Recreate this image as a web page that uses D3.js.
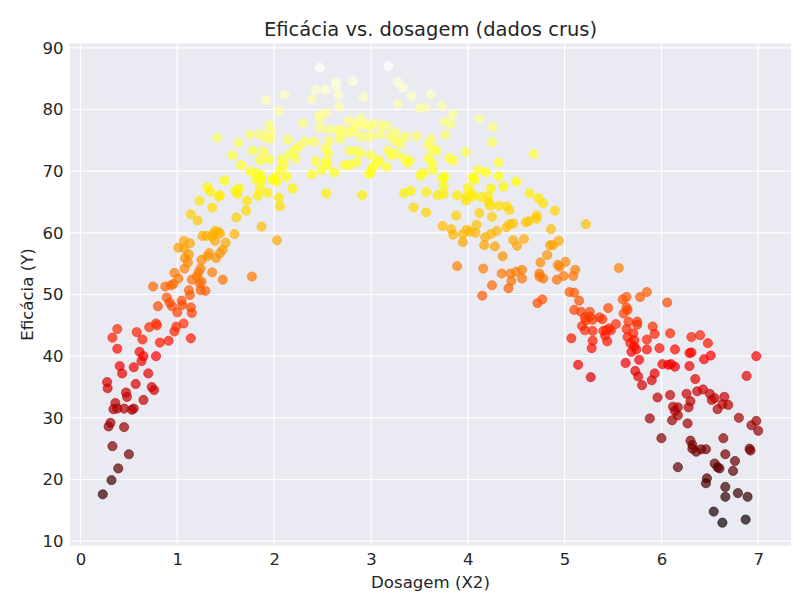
<!DOCTYPE html>
<html>
<head>
<meta charset="utf-8">
<script src="https://cdn.jsdelivr.net/npm/d3@7"></script>
<style>
  body { margin: 0; background: #fff; }
  text { font-family: "DejaVu Sans", sans-serif; fill: #262626; }
</style>
</head>
<body>
<script>
// dose (X2) and efficacy (Y)
var dose = [
  0.23,0.32,0.39,0.50,0.33,0.45,0.29,0.31,0.34,0.36,0.38,0.45,0.53,0.55,0.65,0.48,0.47,0.28,0.275,0.405,
  0.43,0.57,0.735,0.76,0.70,0.55,0.61,0.65,0.63,0.78,0.38,0.33,0.38,0.58,0.64,0.71,0.78,0.79,0.82,0.91,
  0.97,0.99,1.065,1.14,0.75,0.80,0.89,0.92,0.945,1.0,1.045,1.05,1.14,1.15,0.876,0.935,0.96,1.01,0.97,1.12,
  1.13,1.15,1.22,1.23,1.25,1.24,1.29,1.36,1.20,1.24,1.075,1.07,1.13,1.01,1.07,1.12,1.08,1.11,1.47,1.44,
  1.40,1.33,1.31,1.25,1.47,1.77,1.39,1.42,1.37,1.44,1.39,1.36,1.26,1.30,1.50,1.59,2.03,1.87,1.61,1.71,
  1.72,1.14,1.21,1.23,1.36,1.31,1.34,1.43,1.44,1.49,1.60,1.62,1.64,1.83,1.85,1.93,1.75,1.81,1.82,1.87,
  1.87,1.98,2.01,2.03,2.06,2.13,2.47,2.43,2.53,2.39,2.11,1.92,2.05,2.47,2.47,2.54,2.30,2.47,2.56,1.95,
  1.96,1.75,1.85,1.91,1.96,2.14,2.32,2.41,2.25,2.22,2.16,2.22,2.53,2.56,2.54,2.43,2.49,2.39,2.54,1.41,
  1.63,1.57,1.78,1.89,1.66,1.86,1.95,2.08,2.10,2.19,2.05,2.06,
  3.18,2.64,2.64,2.81,3.28,3.33,2.66,2.92,3.42,3.62,3.28,2.67,3.50,3.56,3.73,3.85,3.76,3.82,2.77,2.90,
  2.85,3.02,3.11,3.16,2.99,2.94,2.89,2.82,2.65,2.70,2.68,2.77,2.82,2.90,2.99,3.09,3.20,3.25,3.35,3.47,
  3.62,3.77,3.98,2.57,2.68,2.78,2.89,2.85,3.00,3.18,3.26,3.21,3.26,3.30,3.34,3.40,3.38,3.59,3.64,3.68,
  3.59,3.63,3.64,3.81,3.85,3.54,3.51,3.74,3.76,3.75,3.08,3.06,3.02,3.16,3.00,2.98,2.73,2.78,2.85,2.62,
  2.55,2.91,3.34,3.41,3.57,3.44,3.57,3.69,3.75,3.88,3.89,3.99,3.98,4.00,3.74,3.83,3.85,3.95,3.95,3.99,
  4.68,4.32,4.05,4.07,4.11,4.19,4.32,4.50,4.24,4.37,4.04,4.05,4.14,4.21,4.22,4.23,4.32,4.40,4.43,4.64,
  4.73,4.78,4.90,4.12,4.25,4.40,4.43,4.47,4.60,4.63,4.71,4.71,5.22,4.02,4.09,4.08,4.18,4.24,4.30,4.17,
  4.28,4.47,4.51,4.58,4.86,4.94,4.85,4.88,4.36,3.89,4.16,4.82,4.75,4.93,4.95,5.01,5.11,4.35,4.44,4.50,
  4.56,4.56,4.45,4.42,4.74,4.78,4.74,4.92,4.99,5.09,4.25,4.15,4.72,4.77,5.05,5.10,5.15,5.18,5.21,5.07,
  4.12,4.26,4.25,
  5.56,5.10,5.17,5.26,5.21,5.26,5.29,5.22,5.36,5.39,5.45,5.60,5.64,5.64,5.78,5.85,6.06,5.61,5.65,5.29,
  5.40,5.43,5.46,5.48,5.42,5.44,5.53,5.66,5.75,5.75,5.64,5.65,5.71,5.72,5.91,5.93,6.09,5.29,5.28,5.85,
  5.68,5.72,5.74,5.69,5.77,5.85,5.98,6.14,5.14,5.27,5.63,5.73,5.76,5.80,5.90,5.93,6.01,6.07,6.10,6.14,
  5.96,6.09,5.88,
  6.31,6.40,6.48,6.29,6.31,6.44,6.51,6.98,6.29,6.88,6.35,6.37,6.43,6.50,6.52,6.55,6.65,6.69,6.63,6.58,
  6.26,6.30,6.28,6.17,6.12,6.14,6.17,6.27,6.11,6.80,6.93,6.98,7.00,6.00,6.30,6.32,6.32,6.36,6.41,6.46,
  6.64,6.66,6.91,6.92,6.76,6.17,6.55,6.58,6.60,6.74,6.47,6.46,6.66,6.79,6.66,6.89,6.54,6.63,6.87
];
var efic = [
  17.6,19.9,21.8,24.1,25.4,28.5,28.6,29.2,31.4,32.4,31.5,31.5,31.3,31.5,32.9,33.4,34.1,34.8,35.8,38.4,
  37.2,35.5,35.0,34.5,37.2,38.2,40.7,40.0,39.2,40.0,41.2,43.0,44.4,43.9,42.7,44.7,45.3,45.0,42.2,42.5,
  44.0,44.8,45.3,42.9,51.3,48.1,49.5,48.7,48.1,47.1,49.0,48.3,47.9,47.0,51.3,51.5,51.7,52.6,53.5,50.7,
  49.9,52.4,53.6,51.8,52.1,50.7,50.6,53.6,52.9,54.2,54.2,58.7,58.3,57.6,57.5,56.5,55.9,55.2,57.3,56.7,
  55.9,56.7,56.2,55.6,52.4,52.9,60.3,60.2,59.8,59.9,58.7,59.4,59.5,59.5,58.4,59.8,58.8,61.0,62.5,63.6,
  65.2,63.0,62.0,65.2,64.1,67.4,66.7,65.9,66.1,68.5,66.8,66.3,67.2,66.0,67.1,66.5,70.0,68.7,69.7,69.3,
  68.4,68.6,69.0,68.3,70.2,69.1,86.8,83.2,83.2,81.7,82.4,81.5,79.8,79.1,78.6,79.4,77.8,77.1,76.7,77.5,
  76.5,75.9,76.0,75.4,75.3,75.1,74.8,74.8,74.0,73.5,72.8,72.1,73.7,72.9,71.6,71.6,70.2,69.5,66.4,75.4,
  74.6,72.6,73.3,73.2,71.0,71.8,71.9,71.9,71.0,67.2,65.7,64.3,
  87.0,84.5,83.9,84.6,84.4,83.6,82.4,82.0,82.1,82.4,80.9,80.5,80.2,80.3,80.6,79.2,78.0,77.7,78.2,78.6,
  77.8,77.7,77.5,77.3,77.2,77.5,77.5,77.2,76.7,76.7,76.2,76.2,76.4,75.6,75.6,76.0,75.6,76.3,75.6,75.7,
  75.2,75.9,73.1,74.9,75.2,73.3,72.9,73.2,72.6,73.3,72.8,72.6,74.9,74.4,72.1,71.7,71.3,74.3,73.5,73.3,
  72.1,71.4,70.2,72.1,71.7,69.7,69.3,68.9,69.1,67.6,71.8,71.3,70.7,70.7,69.9,69.5,71.0,71.0,71.4,69.8,
  71.0,66.1,66.4,66.8,66.6,64.1,63.3,66.1,66.3,62.8,66.1,65.9,65.2,67.3,61.1,60.6,59.7,59.8,58.5,60.5,
  72.8,71.4,69.0,68.6,70.2,69.8,69.2,68.3,67.2,67.5,66.4,65.9,65.8,65.9,64.9,64.4,64.4,64.3,63.7,66.4,
  65.6,64.8,63.6,63.2,62.6,60.9,61.4,61.5,61.7,61.9,62.8,62.3,61.4,60.2,61.3,60.0,59.3,59.8,60.3,58.0,
  57.8,58.8,57.9,59.0,60.6,58.7,58.0,58.0,56.2,54.6,54.2,56.4,55.2,54.8,54.5,55.3,54.0,53.4,53.4,53.7,
  54.0,52.6,52.2,51.0,53.4,52.6,52.9,52.4,53.0,53.0,51.5,49.8,48.6,49.2,50.4,50.3,49.0,44.9,44.2,42.9,
  78.5,77.2,74.7,
  54.3,47.5,47.2,47.2,46.3,46.4,45.9,45.8,46.3,46.0,47.8,49.2,49.6,47.9,49.6,50.4,48.7,46.9,47.5,44.1,
  44.1,44.2,44.5,44.2,43.3,42.4,45.2,45.6,45.6,45.1,44.4,43.1,43.7,42.6,44.8,43.6,43.7,42.5,41.3,42.7,
  42.1,41.6,41.1,40.7,39.4,41.1,41.3,41.1,38.6,36.6,38.9,37.6,36.7,35.3,36.1,37.2,38.7,38.6,38.7,38.3,
  33.3,33.7,29.9,
  43.1,43.4,42.1,40.5,40.6,39.5,40.1,40.0,38.4,36.8,36.3,34.3,34.6,33.9,32.9,33.2,33.4,32.1,32.2,31.4,
  33.9,32.7,31.7,31.7,31.8,31.1,30.4,29.1,29.6,30.0,28.8,29.5,27.9,26.7,26.3,25.6,25.0,24.5,24.9,24.9,
  26.7,24.1,25.0,24.7,23.0,22.0,22.6,22.0,21.8,21.4,20.2,19.4,18.8,17.8,17.2,17.2,14.8,13.0,13.5
];
var xTicks = [0, 1, 2, 3, 4, 5, 6, 7];
var yTicks = [10, 20, 30, 40, 50, 60, 70, 80, 90];

var width = 812, height = 612;
var margin = { top: 43.5, right: 21, bottom: 66.5, left: 70 };

var points = dose.map(function(d, i) { return { x: d, y: efic[i] }; });

// matplotlib style 5% padding on each side
var xExt = d3.extent(dose), yExt = d3.extent(efic);
var xPad = (xExt[1] - xExt[0]) * 0.05, yPad = (yExt[1] - yExt[0]) * 0.05;

var x = d3.scaleLinear()
  .domain([xExt[0] - xPad, xExt[1] + xPad])
  .range([margin.left, width - margin.right]);
var y = d3.scaleLinear()
  .domain([yExt[0] - yPad, yExt[1] + yPad])
  .range([height - margin.bottom, margin.top]);

// "hot" colormap driven by the efficacy value
var norm = d3.scaleLinear().domain(yExt).range([0, 1]).clamp(true);
function hot(v) {
  var t = norm(v);
  var r = Math.min(1, 0.0416 + (1 - 0.0416) * t / 0.365079);
  var g = Math.max(0, Math.min(1, (t - 0.365079) / (0.746032 - 0.365079)));
  var b = Math.max(0, Math.min(1, (t - 0.746032) / (1 - 0.746032)));
  return d3.rgb(r * 255, g * 255, b * 255).toString();
}

var svg = d3.select("body")
  .append("svg")
  .attr("width", width)
  .attr("height", height);

svg.append("rect")
  .attr("x", margin.left)
  .attr("y", margin.top)
  .attr("width", width - margin.left - margin.right)
  .attr("height", height - margin.top - margin.bottom)
  .attr("fill", "#eaeaf2");

// grid
svg.append("g").selectAll("line")
  .data(xTicks)
  .enter()
  .append("line")
  .attr("x1", function(d) { return x(d); })
  .attr("x2", function(d) { return x(d); })
  .attr("y1", margin.top)
  .attr("y2", height - margin.bottom)
  .attr("stroke", "#fff")
  .attr("stroke-width", 1.2);

svg.append("g").selectAll("line")
  .data(yTicks)
  .enter()
  .append("line")
  .attr("x1", margin.left)
  .attr("x2", width - margin.right)
  .attr("y1", function(d) { return y(d); })
  .attr("y2", function(d) { return y(d); })
  .attr("stroke", "#fff")
  .attr("stroke-width", 1.2);

// points
svg.append("g").selectAll("circle")
  .data(points)
  .enter()
  .append("circle")
  .attr("cx", function(d) { return x(d.x); })
  .attr("cy", function(d) { return y(d.y); })
  .attr("r", 4.6)
  .attr("fill", function(d) { return hot(d.y); })
  .attr("fill-opacity", 0.7)
  .attr("stroke", function(d) { return hot(d.y); })
  .attr("stroke-opacity", 0.7)
  .attr("stroke-width", 0.8);

// axes (no lines, labels only)
var xAxis = svg.append("g")
  .attr("transform", "translate(0," + (height - margin.bottom) + ")")
  .call(d3.axisBottom(x).tickValues(xTicks).tickSize(0).tickPadding(7.5));
var yAxis = svg.append("g")
  .attr("transform", "translate(" + margin.left + ",0)")
  .call(d3.axisLeft(y).tickValues(yTicks).tickSize(0).tickPadding(6.5));
[xAxis, yAxis].forEach(function(a) {
  a.select(".domain").remove();
  a.selectAll("text")
    .style("font-family", "DejaVu Sans, sans-serif")
    .style("font-size", "16.5px")
    .attr("fill", "#262626");
});

svg.append("text")
  .attr("x", (margin.left + width - margin.right) / 2)
  .attr("y", 36)
  .attr("text-anchor", "middle")
  .style("font-size", "19.5px")
  .text("Eficácia vs. dosagem (dados crus)");

svg.append("text")
  .attr("x", (margin.left + width - margin.right) / 2)
  .attr("y", 588)
  .attr("text-anchor", "middle")
  .style("font-size", "16.6px")
  .text("Dosagem (X2)");

svg.append("text")
  .attr("transform", "translate(33," + ((margin.top + height - margin.bottom) / 2) + ") rotate(-90)")
  .attr("text-anchor", "middle")
  .style("font-size", "16.6px")
  .text("Eficácia (Y)");
</script>
</body>
</html>
